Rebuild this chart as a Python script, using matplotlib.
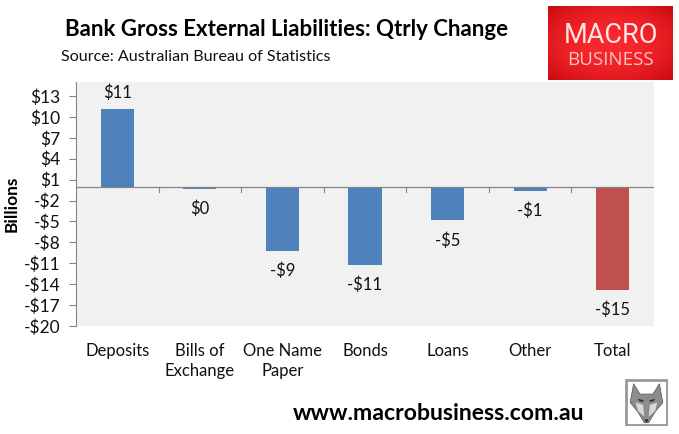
import numpy as np
import matplotlib
matplotlib.use('Agg')
import matplotlib.pyplot as plt
from matplotlib.patches import Polygon, Rectangle

categories = ['Deposits', 'Bills of\nExchange', 'One Name\nPaper', 'Bonds', 'Loans', 'Other', 'Total']
values = [11.1, -0.3, -9.2, -11.2, -4.8, -0.6, -14.8]
value_labels = ['$11', '$0', '-$9', '-$11', '-$5', '-$1', '-$15']
bar_colors = ['#4f81bd'] * 6 + ['#c0504d']
y_ticks = list(range(-20, 14, 3))

W, H = 679, 434
plt.rcParams['font.family'] = ['Lato', 'DejaVu Sans']
plt.rcParams['text.parse_math'] = False


def box(x0, y0, x1, y1):
    # pixel box (from top left) to figure fractions
    return [x0 / W, 1 - y1 / H, (x1 - x0) / W, (y1 - y0) / H]


fig = plt.figure(figsize=(W / 100, H / 100), dpi=100)
ax = fig.add_axes(box(76, 82, 654, 326))
ax.set_facecolor('#f1f1f1')

x = np.arange(len(categories))
ax.bar(x, values, width=0.4, color=bar_colors, zorder=3)
ax.set_xlim(-0.5, 6.5)
ax.set_ylim(-20, 15)

ax.set_yticks(y_ticks)
ax.set_yticklabels([('-$%d' % -v) if v < 0 else ('$%d' % v) for v in y_ticks], fontsize=12.5, color='#111111')
ax.tick_params(axis='y', length=5, width=0.8, color='#868686', pad=6)

# category axis sits at zero, labels stay at the bottom
for s in ['top', 'right', 'bottom']:
    ax.spines[s].set_visible(False)
ax.spines['left'].set_color('#868686')
ax.axhline(0, color='#868686', lw=0.9, zorder=4)
ax.set_xticks([])
for b in np.arange(0.5, 6.5):
    ax.plot([b, b], [0, -0.8], color='#868686', lw=0.8, zorder=4)

for i, (v, lab) in enumerate(zip(values, value_labels)):
    if v > 0:
        ax.annotate(lab, (i, v), xytext=(0, 8), textcoords='offset pixels', ha='center', va='bottom', fontsize=12, color='#111111')
    else:
        ax.annotate(lab, (i, v), xytext=(0, -12), textcoords='offset pixels', ha='center', va='top', fontsize=12, color='#111111')
    ax.annotate(categories[i], (i, 0), xycoords=('data', 'axes fraction'), xytext=(0, -17), textcoords='offset pixels',
                ha='center', va='top', fontsize=12, color='#111111', linespacing=1.3)

fig.text(12 / W, 1 - 204 / H, 'Billions', rotation=90, ha='center', va='center', fontsize=12.5, fontweight='bold')
fig.text(65 / W, 1 - 30 / H, 'Bank Gross External Liabilities: Qtrly Change', ha='left', va='center', fontsize=16, fontweight='bold')
fig.text(61 / W, 1 - 57 / H, 'Source: Australian Bureau of Statistics', ha='left', va='center', fontsize=11.6, color='#111111')
fig.text(293 / W, 1 - 413 / H, 'www.macrobusiness.com.au', ha='left', va='center', fontsize=16.6, fontweight='bold', color='black')

# red logo
logo = fig.add_axes(box(548, 6, 673, 80))
yy, xx = np.mgrid[-1:1:74j, -1:1:125j]
fade = np.clip((xx ** 2 + yy ** 2) / 2, 0, 1)
rgb = np.dstack([0.98 - 0.2 * fade, 0.16 - 0.12 * fade, 0.18 - 0.12 * fade])
logo.imshow(rgb, aspect='auto', extent=(0, 1, 0, 1))
logo.axis('off')
logo.set_xlim(0, 1)
logo.set_ylim(0, 1)
logo.text(0.5, 0.60, 'MACRO', color='#ffe6e6', fontsize=19.5, ha='center', va='center', fontfamily='Roboto')
logo.text(0.5, 0.27, 'BUSINESS', color='#fbc4c4', fontsize=13.5, ha='center', va='center', fontfamily='Open Sans')

# wolf badge
wolf = fig.add_axes(box(625, 379, 668, 426))
wolf.set_xlim(0, 1)
wolf.set_ylim(0, 1)
wolf.axis('off')
wolf.add_patch(Rectangle((0.02, 0.02), 0.96, 0.96, fc='white', ec='#999999', lw=2))
wolf.add_patch(Polygon([(0.2, 0.9), (0.35, 0.68), (0.65, 0.68), (0.8, 0.9), (0.88, 0.5), (0.7, 0.3), (0.55, 0.07), (0.45, 0.07), (0.3, 0.3), (0.12, 0.5)], fc='#8c8c8c', ec='#555555', lw=0.5))
wolf.add_patch(Polygon([(0.25, 0.5), (0.42, 0.45), (0.45, 0.2), (0.3, 0.32)], fc='#d8d8d8'))
wolf.add_patch(Polygon([(0.75, 0.5), (0.58, 0.45), (0.55, 0.2), (0.7, 0.32)], fc='#d8d8d8'))
wolf.add_patch(Polygon([(0.45, 0.14), (0.55, 0.14), (0.5, 0.07)], fc='#222222'))
wolf.add_patch(Polygon([(0.3, 0.58), (0.43, 0.55), (0.42, 0.51), (0.33, 0.53)], fc='#333333'))
wolf.add_patch(Polygon([(0.7, 0.58), (0.57, 0.55), (0.58, 0.51), (0.67, 0.53)], fc='#333333'))

fig.savefig('out.png', dpi=100)
